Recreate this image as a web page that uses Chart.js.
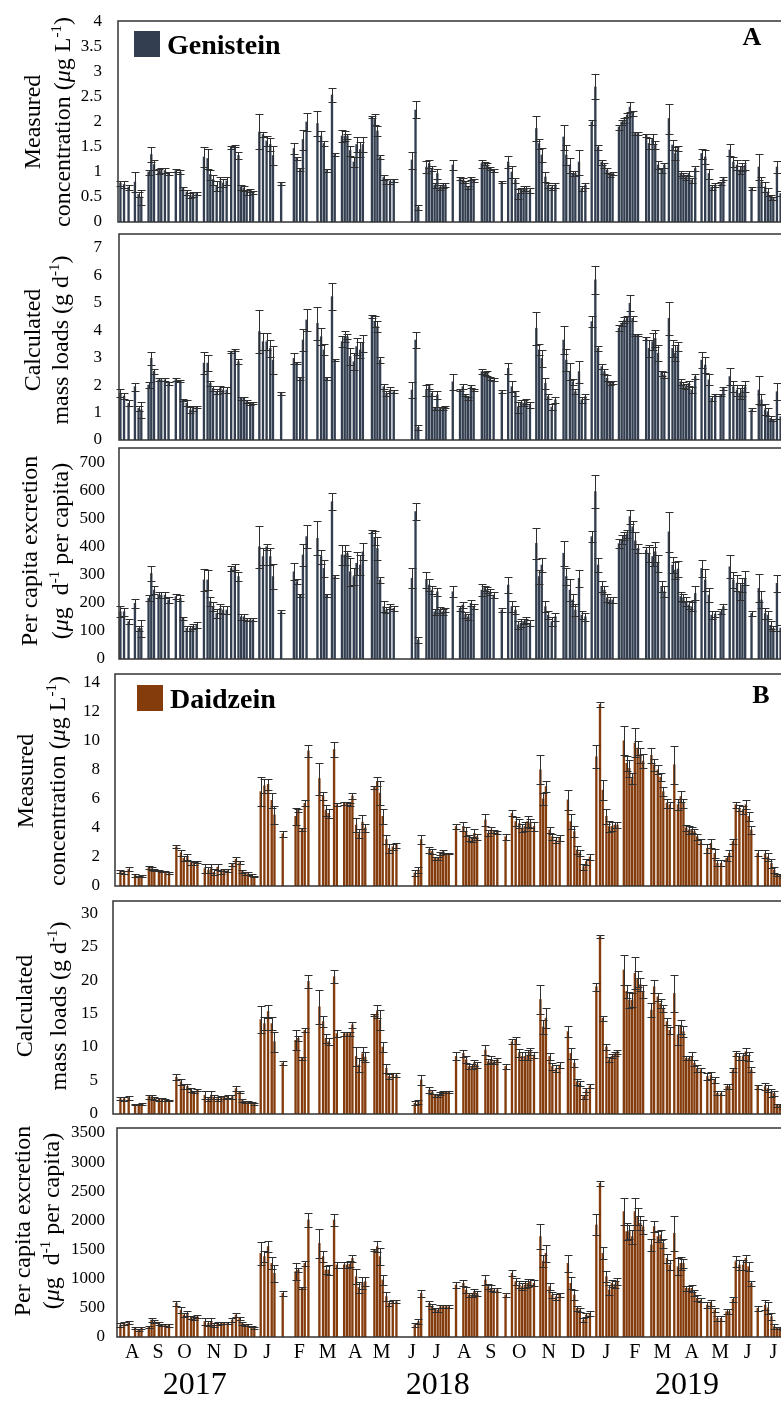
<!DOCTYPE html>
<html>
<head>
<meta charset="utf-8">
<script src="https://cdn.jsdelivr.net/npm/chart.js@4.4.1/dist/chart.umd.min.js"></script>
<style>
  html, body { margin: 0; padding: 0; background: #fff; overflow: hidden; }
  #wrap { position: relative; width: 781px; height: 1401px; overflow: hidden; }
  #wrap canvas { position: absolute; left: 0; }
</style>
</head>
<body>
<div id="wrap"></div>
<script>
// sampling days, counted from 1 Aug 2017
const sampleDays = [
  1, 5, 10, 17, 21, 24,
  32, 35, 38, 43, 46, 50, 54,
  62, 67, 70, 74, 78, 81, 85,
  93, 97, 100, 103, 107, 111, 114, 118,
  123, 127, 131, 134, 137, 140, 144, 147,
  154, 158, 162, 166, 169,
  178,
  192, 195, 199, 202, 206,
  218, 222, 225, 228, 234, 237,
  245, 248, 251, 254, 258, 261, 265, 268,
  278, 281, 284, 287, 291, 294, 298, 302,
  322, 326, 329,
  338, 341, 344, 347, 350, 353, 356, 359,
  367,
  375, 378, 381, 384, 387, 390,
  399, 402, 405, 408, 412,
  421,
  428, 432, 436, 439, 442, 445, 448, 452,
  459, 462, 465, 469, 472, 476, 480,
  489, 492, 496, 499, 502, 506, 509, 513,
  520, 524, 527, 531, 534, 537, 540, 543,
  550, 553, 556, 559, 562, 565, 568, 571,
  580, 583, 587, 590, 593, 597, 600, 605,
  609, 612, 615, 618, 621, 624, 627, 630, 634,
  641, 645, 649, 652, 656,
  662, 665, 669,
  672, 676, 680, 683, 686, 689,
  696,
  704, 707, 711, 714, 717, 720, 724, 728
];

// Genistein, measured concentration (ug/L)
const genConc = [
  0.78, 0.75, 0.7, 0.8, 0.55, 0.5,
  1.0, 1.35, 1.15, 1.02, 1.03, 1.03, 0.97,
  1.03, 1.0, 0.67, 0.6, 0.52, 0.55, 0.58,
  1.3, 1.27, 0.95, 0.85, 0.72, 0.8, 0.78, 0.82,
  1.5, 1.52, 1.33, 0.7, 0.68, 0.6, 0.63, 0.6,
  1.8, 1.75, 1.62, 1.55, 1.33,
  0.78,
  1.47, 1.28, 1.05, 1.65, 2.0,
  1.97, 1.72, 1.57, 1.03, 2.54, 1.35,
  1.72, 1.72, 1.72, 1.43, 1.2, 1.55, 1.45, 1.55,
  2.1, 2.05, 1.82, 1.3, 0.9, 0.82, 0.82, 0.84,
  1.24, 2.24, 0.3,
  1.1, 1.17, 1.07, 0.74, 0.97, 0.7, 0.74, 0.74,
  1.14,
  0.87, 0.84, 0.8, 0.7, 0.87, 0.84,
  1.17, 1.17, 1.14, 1.07, 1.04,
  0.8,
  1.2, 1.0, 0.84, 0.57, 0.64, 0.67, 0.67, 0.64,
  1.87, 1.57, 1.34, 0.9, 0.74, 0.7, 0.74,
  1.7, 1.34, 1.14, 0.97, 0.97, 1.2, 0.67, 0.74,
  2.0, 2.7, 1.5, 1.2, 1.14, 1.04, 0.94, 0.97,
  1.9, 2.0, 2.04, 2.14, 2.3, 2.17, 1.77, 1.77,
  1.74, 1.57, 1.67, 1.54, 1.14, 1.04, 1.14, 2.07,
  1.54, 1.37, 1.47, 0.97, 0.94, 0.9, 0.97, 0.84, 1.07,
  1.37, 1.3, 0.97, 0.7, 0.74,
  0.77, 0.87, null,
  1.44, 1.2, 1.14, 1.04, 1.1, 1.14,
  0.67,
  1.1, 0.8, 0.7, 0.6, 0.5, 0.47, 1.1, 0.57
];
const genConcErr = [
  0.05, 0.08, 0.05, 0.2, 0.05, 0.15,
  0.05, 0.15, 0.1, 0.05, 0.05, 0.05, 0.03,
  0.03, 0.03, 0.03, 0.05, 0.05, 0.05, 0.03,
  0.2, 0.2, 0.1, 0.1, 0.1, 0.1, 0.08, 0.08,
  0.03, 0.02, 0.06, 0.05, 0.05, 0.05, 0.03, 0.03,
  0.35, 0.05, 0.1, 0.13, 0.2,
  0.03,
  0.12, 0.03, 0.03, 0.2, 0.17,
  0.25, 0.1, 0.05, 0.03, 0.15, 0.03,
  0.12, 0.1, 0.05, 0.1, 0.1, 0.15, 0.15, 0.15,
  0.03, 0.1, 0.1, 0.03, 0.05, 0.05, 0.05, 0.03,
  0.17, 0.17, 0.05,
  0.12, 0.08, 0.05, 0.05, 0.1, 0.05, 0.05, 0.03,
  0.1,
  0.03, 0.05, 0.03, 0.03, 0.03, 0.03,
  0.08, 0.03, 0.05, 0.03, 0.03,
  0.03,
  0.12, 0.12, 0.05, 0.1, 0.05, 0.05, 0.05, 0.05,
  0.25, 0.1, 0.15, 0.1, 0.05, 0.05, 0.05,
  0.25, 0.2, 0.15, 0.05, 0.05, 0.25, 0.05, 0.05,
  0.05, 0.25, 0.05, 0.05, 0.05, 0.05, 0.03, 0.03,
  0.05, 0.05, 0.05, 0.05, 0.1, 0.05, 0.03, 0.03,
  0.03, 0.12, 0.1, 0.08, 0.08, 0.05, 0.05, 0.3,
  0.1, 0.12, 0.05, 0.05, 0.05, 0.05, 0.05, 0.05, 0.05,
  0.1, 0.15, 0.1, 0.05, 0.03,
  0.03, 0.03, 0,
  0.12, 0.1, 0.1, 0.08, 0.08, 0.1,
  0.03,
  0.25, 0.1, 0.1, 0.08, 0.05, 0.03, 0.12, 0.05
];

// Genistein, calculated mass loads (g/d)
const genLoad = [
  1.7, 1.6, 1.34, 1.94, 1.15, 1.1,
  2.0, 2.97, 2.5, 2.19, 2.19, 2.19, 2.06,
  2.2, 2.15, 1.46, 1.34, 1.1, 1.15, 1.2,
  2.8, 2.8, 2.06, 1.88, 1.76, 1.88, 1.82, 1.82,
  3.2, 3.28, 2.85, 1.52, 1.52, 1.4, 1.34, 1.34,
  3.95, 3.58, 3.58, 3.34, 2.91,
  1.7,
  2.97, 2.8, 2.25, 3.64, 4.37,
  4.25, 3.76, 3.28, 2.25, 5.22, 2.91,
  3.58, 3.76, 3.76, 3.04, 2.85, 3.4, 3.28, 3.52,
  4.5, 4.31, 4.13, 2.91, 1.94, 1.7, 1.82, 1.76,
  1.82, 3.64, 0.46,
  1.82, 1.94, 1.7, 1.15, 1.64, 1.15, 1.15, 1.2,
  2.12,
  1.82, 1.94, 1.64, 1.52, 1.94, 1.82,
  2.49, 2.43, 2.43, 2.25, 2.19,
  1.76,
  2.61, 1.94, 1.7, 1.2, 1.34, 1.34, 1.4, 1.28,
  4.07, 3.28, 2.97, 2.06, 1.58, 1.2, 1.46,
  3.64, 2.91, 2.49, 2.12, 1.76, 2.49, 1.46, 1.58,
  4.31, 5.83, 3.34, 2.67, 2.49, 2.25, 2.06, 2.1,
  4.07, 4.25, 4.37, 4.43, 4.98, 4.43, 3.82, 3.82,
  3.7, 3.34, 3.58, 3.7, 3.16, 2.43, 2.37, 4.43,
  3.34, 3.16, 3.4, 2.12, 2.0, 1.94, 2.06, 1.82, 2.31,
  2.91, 2.73, 2.19, 1.52, 1.64,
  1.64, 1.88, null,
  2.31, 1.94, 1.82, 1.7, 1.82, 1.94,
  1.1,
  1.82, 1.46, 1.1, 1.03, 0.79, 0.73, 1.76, 0.85
];
const genLoadErr = [
  0.15, 0.1, 0.1, 0.15, 0.1, 0.3,
  0.1, 0.25, 0.1, 0.05, 0.05, 0.05, 0.05,
  0.05, 0.05, 0.05, 0.1, 0.1, 0.1, 0.05,
  0.4, 0.3, 0.1, 0.1, 0.1, 0.1, 0.1, 0.1,
  0.05, 0.05, 0.1, 0.05, 0.05, 0.05, 0.05, 0.03,
  0.8, 0.3, 0.3, 0.3, 0.5,
  0.05,
  0.2, 0.05, 0.05, 0.4, 0.4,
  0.6, 0.3, 0.2, 0.05, 0.5, 0.05,
  0.2, 0.2, 0.1, 0.3, 0.3, 0.3, 0.3, 0.3,
  0.05, 0.2, 0.2, 0.1, 0.1, 0.1, 0.1, 0.05,
  0.3, 0.3, 0.1,
  0.2, 0.1, 0.1, 0.05, 0.15, 0.05, 0.05, 0.05,
  0.3,
  0.05, 0.1, 0.05, 0.05, 0.05, 0.05,
  0.1, 0.05, 0.1, 0.05, 0.05,
  0.05,
  0.2, 0.2, 0.1, 0.2, 0.1, 0.1, 0.1, 0.1,
  0.6, 0.2, 0.3, 0.2, 0.1, 0.1, 0.1,
  0.5, 0.4, 0.3, 0.1, 0.1, 0.4, 0.1, 0.1,
  0.2, 0.5, 0.1, 0.1, 0.1, 0.1, 0.05, 0.05,
  0.1, 0.1, 0.1, 0.1, 0.3, 0.1, 0.05, 0.05,
  0.05, 0.3, 0.3, 0.3, 0.3, 0.1, 0.1, 0.6,
  0.3, 0.3, 0.15, 0.1, 0.1, 0.1, 0.1, 0.1, 0.1,
  0.3, 0.3, 0.2, 0.1, 0.05,
  0.05, 0.05, 0,
  0.3, 0.2, 0.2, 0.2, 0.2, 0.2,
  0.05,
  0.5, 0.2, 0.2, 0.15, 0.1, 0.05, 0.3, 0.1
];

// Genistein, per capita excretion (ug/d per capita)
const genCapita = [
  168, 168, 133, 198, 109, 109,
  216, 304, 245, 227, 227, 227, 210,
  222, 216, 145, 109, 109, 115, 121,
  281, 281, 204, 186, 162, 180, 174, 174,
  322, 328, 293, 150, 150, 139, 139, 139,
  399, 364, 399, 364, 293,
  168,
  310, 275, 227, 370, 435,
  429, 364, 322, 227, 559, 293,
  370, 370, 375, 310, 293, 340, 334, 381,
  452, 429, 393, 281, 186, 174, 186, 180,
  287, 524, 68,
  281, 263, 245, 168, 239, 174, 168, 174,
  239,
  180, 192, 156, 150, 198, 186,
  245, 251, 245, 239, 227,
  174,
  263, 186, 174, 121, 127, 133, 139, 127,
  411, 293, 334, 186, 156, 133, 150,
  376, 293, 245, 210, 174, 287, 156, 150,
  435, 595, 334, 257, 245, 216, 210, 210,
  410, 425, 437, 445, 506, 470, 420, 393,
  387, 376, 364, 381, 340, 257, 239, 452,
  334, 316, 320, 222, 216, 204, 192, 186, 233,
  322, 281, 227, 156, 160,
  168, 186, null,
  328, 281, 270, 239, 263, 287,
  162,
  251, 210, 162, 156, 120, 109, 269, 110
];
const genCapitaErr = [
  20, 15, 10, 15, 10, 30,
  10, 25, 15, 10, 10, 10, 10,
  10, 10, 5, 10, 10, 10, 10,
  40, 35, 15, 15, 15, 15, 15, 15,
  10, 10, 15, 10, 10, 5, 5, 5,
  75, 30, 10, 30, 45,
  5,
  30, 10, 5, 40, 40,
  60, 25, 30, 5, 30, 5,
  35, 35, 10, 50, 30, 40, 35, 30,
  5, 25, 40, 10, 20, 10, 10, 8,
  35, 30, 10,
  30, 20, 15, 10, 15, 10, 10, 8,
  20,
  10, 10, 10, 10, 10, 10,
  20, 10, 10, 10, 10,
  8,
  30, 20, 15, 15, 15, 10, 10, 10,
  55, 25, 25, 20, 15, 15, 15,
  45, 30, 40, 20, 20, 30, 15, 15,
  20, 60, 25, 20, 15, 15, 10, 10,
  15, 15, 15, 15, 25, 20, 30, 15,
  10, 30, 35, 35, 30, 20, 20, 70,
  30, 30, 30, 15, 15, 15, 15, 15, 25,
  30, 40, 25, 15, 10,
  8, 8, 0,
  40, 30, 30, 30, 25, 25,
  8,
  50, 30, 20, 15, 15, 10, 30, 10
];

// Daidzein, measured concentration (ug/L)
const daiConc = [
  1.0, 0.95, 1.15, 0.75, 0.65, 0.7,
  1.3, 1.2, 1.1, 1.05, 1.0, 1.0, 0.9,
  2.7, 2.3, 1.9, 2.0, 1.6, 1.55, 1.65,
  1.2, 1.1, 1.2, 0.95, 1.3, 0.95, 1.1, 1.05,
  1.5, 1.85, 1.6, 1.0, 0.85, 0.85, 0.75, 0.65,
  6.5, 6.9, 7.0, 5.9, 4.9,
  3.6,
  4.8, 5.2, 3.9, 5.7, 9.3,
  7.4, 6.2, 5.2, 5.0, 9.4, 5.6,
  5.7, 5.7, 5.6, 6.2, 4.2, 3.6, 4.4, 4.0,
  6.8, 7.2, 6.4, 4.8, 3.2, 2.6, 2.7, 2.8,
  0.9, 1.1, 3.2,
  2.5, 2.37, 1.9, 1.9, 2.25, 2.37, 2.25, 2.25,
  4.1,
  4.1, 3.75, 3.3, 3.2, 3.63, 3.4,
  4.55, 3.63, 3.86, 3.75, 3.7,
  3.4,
  5.0, 4.44, 4.3, 4.0, 4.1, 4.44, 4.3, 4.1,
  8.0, 6.0, 6.85, 3.86, 3.4, 3.17, 3.3,
  5.93, 4.44, 3.75, 2.48, 2.3, 1.33, 1.68, 2.0,
  8.9, 12.5, 6.6, 4.8, 4.1, 4.1, 4.2, 4.2,
  10.0, 8.45, 8.1, 7.4, 9.85, 9.5, 9.0, 8.6,
  9.0, 8.35, 8.0, 7.5, 6.5, 5.7, 5.6, 8.35,
  5.6, 6.16, 5.7, 4.0, 3.86, 3.86, 3.75, 3.4, 3.06,
  2.6, 2.94, 2.25, 1.56, 1.56,
  1.9, 2.25, 3.06,
  5.6, 5.36, 5.24, 5.6, 4.8, 3.86,
  2.25,
  2.2, 2.0, 1.56, 1.1, 0.76, 0.76, 0.64, 2.0
];
const daiConcErr = [
  0.1, 0.1, 0.15, 0.1, 0.05, 0.05,
  0.1, 0.1, 0.1, 0.05, 0.05, 0.05, 0.05,
  0.1, 0.2, 0.2, 0.2, 0.15, 0.1, 0.1,
  0.3, 0.2, 0.3, 0.2, 0.2, 0.1, 0.1, 0.1,
  0.1, 0.15, 0.1, 0.1, 0.1, 0.1, 0.05, 0.05,
  1.0, 0.5, 0.4, 0.5, 0.6,
  0.2,
  0.6, 0.1, 0.1, 0.2, 0.4,
  1.1, 0.3, 0.4, 0.3, 0.5, 0.1,
  0.1, 0.1, 0.1, 0.2, 0.5, 0.3, 0.5, 0.3,
  0.1, 0.3, 0.8, 0.5, 0.3, 0.3, 0.2, 0.15,
  0.2, 0.2, 0.3,
  0.2, 0.2, 0.1, 0.1, 0.1, 0.1, 0.05, 0.05,
  0.2,
  0.3, 0.3, 0.2, 0.2, 0.3, 0.2,
  0.4, 0.2, 0.2, 0.1, 0.1,
  0.2,
  0.2, 0.3, 0.3, 0.3, 0.3, 0.4, 0.3, 0.3,
  1.0, 0.4, 0.4, 0.2, 0.2, 0.2, 0.2,
  0.7, 0.5, 0.4, 0.3, 0.2, 0.2, 0.2, 0.2,
  0.8, 0.2, 0.7, 0.5, 0.4, 0.3, 0.2, 0.2,
  1.0, 0.5, 0.6, 0.4, 1.0, 0.5, 0.5, 0.5,
  0.5, 0.4, 0.3, 0.3, 0.3, 0.3, 0.2, 1.3,
  0.4, 0.4, 0.3, 0.2, 0.3, 0.2, 0.2, 0.2, 0.2,
  0.3, 0.3, 0.3, 0.2, 0.2,
  0.2, 0.2, 0.2,
  0.2, 0.2, 0.3, 0.3, 0.3, 0.3,
  0.2,
  0.3, 0.3, 0.3, 0.2, 0.1, 0.1, 0.1, 0.3
];

// Daidzein, calculated mass loads (g/d)
const daiLoad = [
  2.3, 2.3, 2.4, 1.4, 1.4, 1.5,
  2.6, 2.6, 2.3, 2.2, 2.2, 2.1, 2.0,
  5.5, 4.8, 4.1, 4.1, 3.6, 3.3, 3.6,
  2.8, 2.3, 2.8, 2.5, 2.3, 2.5, 2.5, 2.6,
  2.6, 3.8, 3.3, 2.0, 1.8, 1.8, 1.7, 1.5,
  14.1, 13.5, 15.3, 13.5, 10.8,
  7.6,
  11.0, 11.3, 8.3, 12.5, 19.8,
  16.0, 13.8, 11.3, 10.8, 20.5, 12.0,
  12.0, 12.0, 12.0, 13.3, 8.6, 7.3, 9.0, 8.5,
  14.8, 15.3, 14.0, 10.0, 6.8, 5.6, 5.8, 5.8,
  1.6, 1.8, 5.1,
  3.6, 3.3, 2.8, 2.8, 3.1, 3.3, 3.3, 3.3,
  8.6,
  9.05, 8.1, 7.1, 7.1, 7.6, 7.3,
  9.55, 7.8, 8.1, 7.8, 8.1,
  7.1,
  10.8, 11.0, 9.05, 8.6, 8.6, 8.8, 9.3, 8.8,
  17.1, 13.0, 14.3, 8.6, 7.1, 6.8, 7.3,
  12.3, 9.05, 7.6, 4.8, 4.6, 2.6, 3.6, 4.2,
  19.0, 26.5, 14.3, 10.0, 8.1, 8.6, 9.0, 9.3,
  21.5, 18.3, 17.0, 17.0, 21.0, 20.2, 19.3, 18.3,
  15.5, 19.0, 17.5, 16.5, 15.8, 13.8, 12.5, 18.0,
  11.8, 13.0, 12.3, 8.3, 8.3, 8.6, 7.6, 6.8, 6.6,
  5.6, 5.8, 5.1, 3.1, 3.1,
  4.1, 4.1, 6.6,
  9.05, 8.6, 8.6, 9.3, 8.6, 6.6,
  4.1,
  4.1, 3.8, 3.1, 3.1, 1.3, 1.3, 1.0, 0.8
];
const daiLoadErr = [
  0.2, 0.3, 0.3, 0.1, 0.1, 0.2,
  0.3, 0.3, 0.2, 0.2, 0.2, 0.1, 0.1,
  0.4, 0.5, 0.4, 0.4, 0.3, 0.2, 0.2,
  0.6, 0.3, 0.6, 0.3, 0.3, 0.2, 0.2, 0.2,
  0.3, 0.4, 0.2, 0.2, 0.2, 0.2, 0.1, 0.1,
  2.0, 1.0, 0.9, 1.0, 1.5,
  0.3,
  1.5, 0.4, 0.2, 0.3, 1.0,
  2.5, 0.8, 0.7, 0.5, 1.0, 0.5,
  0.3, 0.3, 0.3, 0.5, 1.4, 1.0, 1.0, 0.8,
  0.2, 1.0, 1.5, 0.7, 0.7, 0.4, 0.3, 0.3,
  0.3, 0.3, 0.7,
  0.4, 0.3, 0.2, 0.2, 0.2, 0.2, 0.1, 0.1,
  0.6,
  0.5, 0.5, 0.4, 0.4, 0.5, 0.4,
  0.8, 0.4, 0.5, 0.3, 0.3,
  0.4,
  0.4, 0.5, 0.6, 0.6, 0.6, 0.7, 0.5, 0.5,
  2.2, 1.0, 1.5, 0.5, 0.5, 0.5, 0.4,
  0.8, 0.8, 0.6, 0.4, 0.4, 0.3, 0.3, 0.3,
  0.6, 0.2, 0.4, 0.5, 0.4, 0.3, 0.3, 0.3,
  2.3, 1.0, 1.2, 1.0, 2.4, 1.2, 1.0, 1.0,
  1.0, 1.0, 0.6, 0.6, 0.5, 0.5, 0.5, 2.8,
  1.5, 1.1, 0.8, 0.3, 0.3, 0.6, 0.5, 0.5, 0.3,
  0.5, 0.5, 0.4, 0.3, 0.3,
  0.4, 0.4, 0.3,
  0.4, 0.5, 0.5, 0.5, 0.7, 0.4,
  0.3,
  0.5, 0.5, 0.6, 0.4, 0.2, 0.2, 0.2, 0.2
];

// Daidzein, per capita excretion (ug/d per capita)
const daiCapita = [
  206, 235, 246, 149, 120, 149,
  177, 292, 260, 235, 206, 206, 200,
  578, 463, 378, 406, 335, 320, 349,
  263, 235, 263, 206, 235, 235, 235, 240,
  292, 378, 320, 230, 206, 206, 180, 149,
  1436, 1379, 1550, 1264, 1093,
  749,
  1121, 1150, 835, 1264, 2008,
  1607, 1379, 1150, 1150, 2008, 1236,
  1236, 1236, 1250, 1350, 1035, 850, 921, 950,
  1493, 1550, 1379, 978, 692, 578, 606, 606,
  206, 263, 749,
  578, 521, 463, 463, 521, 521, 521, 521,
  892,
  921, 806, 721, 721, 778, 749,
  978, 864, 835, 806, 806,
  721,
  1093, 950, 892, 864, 892, 921, 950, 921,
  1722, 1300, 1436, 864, 721, 692, 721,
  1264, 921, 721, 492, 463, 292, 378, 400,
  1922, 2637, 1436, 1035, 806, 921, 900, 950,
  2151, 1808, 1808, 1722, 2151, 2065, 1951, 1893,
  1579, 1893, 1722, 1750, 1607, 1350, 1236, 1779,
  1207, 1264, 1264, 835, 835, 835, 749, 664, 635,
  549, 578, 463, 320, 320,
  435, 435, 646,
  1293, 1236, 1236, 1350, 1207, 921,
  492,
  549, 500, 349, 177, 149, 149, 140, 120
];
const daiCapitaErr = [
  30, 30, 30, 15, 15, 20,
  20, 30, 25, 25, 20, 20, 20,
  40, 50, 40, 40, 30, 20, 30,
  60, 40, 60, 30, 30, 20, 20, 20,
  30, 40, 25, 20, 20, 20, 15, 15,
  200, 100, 90, 100, 150,
  40,
  150, 40, 20, 40, 120,
  250, 100, 70, 80, 100, 50,
  50, 50, 50, 60, 130, 100, 100, 80,
  20, 100, 150, 90, 80, 40, 30, 30,
  40, 40, 60,
  40, 40, 30, 30, 30, 30, 20, 20,
  50,
  50, 50, 40, 40, 50, 40,
  80, 40, 50, 30, 30,
  40,
  50, 60, 60, 60, 60, 70, 50, 50,
  220, 100, 150, 60, 50, 50, 40,
  150, 100, 80, 40, 40, 40, 40, 40,
  180, 40, 100, 100, 80, 60, 60, 60,
  230, 150, 120, 120, 230, 150, 120, 120,
  100, 100, 100, 80, 80, 80, 80, 300,
  150, 110, 80, 40, 40, 60, 50, 50, 30,
  50, 50, 40, 40, 40,
  40, 40, 40,
  100, 80, 80, 60, 80, 40,
  40,
  80, 100, 60, 40, 20, 20, 20, 20
];

const genConcTicks = [0, 0.5, 1, 1.5, 2, 2.5, 3, 3.5, 4];
const genLoadTicks = [0, 1, 2, 3, 4, 5, 6, 7];
const genCapitaTicks = [0, 100, 200, 300, 400, 500, 600, 700];
const daiConcTicks = [0, 2, 4, 6, 8, 10, 12, 14];
const daiLoadTicks = [0, 5, 10, 15, 20, 25, 30];
const daiCapitaTicks = [0, 500, 1000, 1500, 2000, 2500, 3000, 3500];

const monthLabels = ['A', 'S', 'O', 'N', 'D', 'J', 'F', 'M', 'A', 'M', 'J', 'J',
  'A', 'S', 'O', 'N', 'D', 'J', 'F', 'M', 'A', 'M', 'J', 'J'];
const monthDays = [14, 42, 71, 103, 132, 161, 196, 227, 257, 286, 319, 346,
  376, 405, 436, 468, 500, 531, 562, 592, 624, 655, 685, 713];
const yearLabels = ['2017', '2018', '2019'];
const yearDays = [82, 347, 619];

const SERIF = '"Liberation Serif", "Times New Roman", serif';
const GEN = '#333f50';
const DAI = '#843c0c';
const PAD = 34;

const concTitle = [[['Measured']], [['concentration ('], ['μ', 'i'], ['g L'], ['-1', 's'], [')']]];
const loadTitle = [[['Calculated']], [['mass loads (g d'], ['-1', 's'], [')']]];
const capitaTitle = [[['Per capita excretion']], [['('], ['μ', 'i'], ['g  d'], ['-1', 's'], [' per capita)']]];

const panels = [
  { values: genConc, errors: genConcErr, color: GEN, top: 21, bottom: 222, left: 118,
    yMax: 4.02, ticks: genConcTicks, tickPad: 16, xMin: -1.65, xMax: 749.4,
    title: concTitle, titleX: [32, 62], titleY: 122,
    legend: { text: 'Genistein', x: 134, y: 31, base: 54 }, letter: { text: 'A', x: 752, y: 45 } },
  { values: genLoad, errors: genLoadErr, color: GEN, top: 234, bottom: 440, left: 119,
    yMax: 7.5, ticks: genLoadTicks, tickPad: 17, xMin: -0.55, xMax: 749.4,
    title: loadTitle, titleX: [32, 60], titleY: 340 },
  { values: genCapita, errors: genCapitaErr, color: GEN, top: 448, bottom: 659, left: 119,
    yMax: 750, ticks: genCapitaTicks, tickPad: 14, xMin: -0.55, xMax: 749.4,
    title: capitaTitle, titleX: [29, 60], titleY: 551 },
  { values: daiConc, errors: daiConcErr, color: DAI, top: 674, bottom: 886, left: 115,
    yMax: 14.6, ticks: daiConcTicks, tickPad: 15, xMin: -4.9, xMax: 742.1,
    title: concTitle, titleX: [25, 57], titleY: 781,
    legend: { text: 'Daidzein', x: 137, y: 685, base: 708 }, letter: { text: 'B', x: 761, y: 703 } },
  { values: daiLoad, errors: daiLoadErr, color: DAI, top: 901, bottom: 1114, left: 113,
    yMax: 31.8, ticks: daiLoadTicks, tickPad: 15, xMin: -7.1, xMax: 742.1,
    title: loadTitle, titleX: [24, 58], titleY: 1006 },
  { values: daiCapita, errors: daiCapitaErr, color: DAI, top: 1128, bottom: 1337, left: 117,
    yMax: 3585, ticks: daiCapitaTicks, tickPad: 12, xMin: -2.7, xMax: 742.1,
    title: capitaTitle, titleX: [22, 51], titleY: 1221 }
];

const segFont = ( style ) => {
  if ( style === 's' ) return '15px ' + SERIF;
  if ( style === 'i' ) return 'italic 24px ' + SERIF;
  return '24px ' + SERIF;
};

const drawTitleLine = ( ctx, segs, x, y ) => {
  let total = 0;
  segs.forEach( ( s ) => {
    ctx.font = segFont( s[ 1 ] );
    total += ctx.measureText( s[ 0 ] ).width;
  } );
  ctx.save();
  ctx.translate( x, y );
  ctx.rotate( -Math.PI / 2 );
  ctx.textBaseline = 'alphabetic';
  ctx.textAlign = 'left';
  let pos = -total / 2;
  segs.forEach( ( s ) => {
    ctx.font = segFont( s[ 1 ] );
    ctx.fillText( s[ 0 ], pos, s[ 1 ] === 's' ? -1 : 8 );
    pos += ctx.measureText( s[ 0 ] ).width;
  } );
  ctx.restore();
};

const panelDecor = ( p, cTop, last ) => ( {
  id: 'panelDecor',
  afterDatasetsDraw( chart ) {
    const ctx = chart.ctx;
    const a = chart.chartArea;
    const ys = chart.scales.y;
    const meta = chart.getDatasetMeta( 0 );

    // error bars
    ctx.save();
    ctx.strokeStyle = '#2e2e2e';
    ctx.lineWidth = 1;
    meta.data.forEach( ( bar, i ) => {
      const v = p.values[ i ];
      if ( v === null || v === undefined ) return;
      const e = p.errors[ i ];
      const x = Math.round( bar.x ) + 0.5;
      const yt = Math.round( ys.getPixelForValue( v + e ) ) + 0.5;
      const yb = Math.round( ys.getPixelForValue( Math.max( 0, v - e ) ) ) + 0.5;
      ctx.beginPath();
      ctx.moveTo( x, yb );
      ctx.lineTo( x, yt );
      ctx.moveTo( x - 4, yt );
      ctx.lineTo( x + 4, yt );
      ctx.moveTo( x - 4, yb );
      ctx.lineTo( x + 4, yb );
      ctx.stroke();
    } );
    ctx.restore();

    // plot frame
    ctx.save();
    ctx.strokeStyle = '#333';
    ctx.lineWidth = 1.5;
    ctx.beginPath();
    ctx.moveTo( a.right + 10, a.top );
    ctx.lineTo( a.left, a.top );
    ctx.lineTo( a.left, a.bottom );
    ctx.lineTo( a.right + 10, a.bottom );
    ctx.stroke();
    ctx.restore();
  },
  afterDraw( chart ) {
    const ctx = chart.ctx;
    ctx.save();
    ctx.fillStyle = '#000';
    p.title.forEach( ( segs, k ) => drawTitleLine( ctx, segs, p.titleX[ k ], p.titleY - cTop ) );

    if ( p.legend ) {
      ctx.fillStyle = p.color;
      ctx.fillRect( p.legend.x, p.legend.y - cTop, 26, 26 );
      ctx.fillStyle = '#000';
      ctx.font = 'bold 28px ' + SERIF;
      ctx.textAlign = 'left';
      ctx.textBaseline = 'alphabetic';
      ctx.fillText( p.legend.text, p.legend.x + 33, p.legend.base - cTop );
    }
    if ( p.letter ) {
      ctx.font = 'bold 26px ' + SERIF;
      ctx.textAlign = 'center';
      ctx.textBaseline = 'alphabetic';
      ctx.fillText( p.letter.text, p.letter.x, p.letter.y - cTop );
    }
    if ( last ) {
      const xs = chart.scales.x;
      ctx.font = '32px ' + SERIF;
      ctx.textAlign = 'center';
      ctx.textBaseline = 'middle';
      yearLabels.forEach( ( t, i ) => {
        ctx.fillText( t, xs.getPixelForValue( yearDays[ i ] ), 1386 - cTop );
      } );
    }
    ctx.restore();
  }
} );

const wrap = document.getElementById( 'wrap' );

panels.forEach( ( p, k ) => {
  const last = k === panels.length - 1;
  const cTop = p.top - PAD;
  const cHeight = last ? 1401 - cTop : p.bottom + PAD - cTop;
  const canvas = document.createElement( 'canvas' );
  canvas.width = 800;
  canvas.height = cHeight;
  canvas.style.top = cTop + 'px';
  wrap.appendChild( canvas );

  new Chart( canvas.getContext( '2d' ), {
    type: 'bar',
    data: {
      datasets: [ {
        data: sampleDays.map( ( d, i ) => ( { x: d, y: p.values[ i ] } ) ),
        backgroundColor: p.color,
        barThickness: 1.7,
        borderWidth: 0
      } ]
    },
    options: {
      responsive: false,
      animation: false,
      events: [],
      layout: { padding: { top: PAD, bottom: last ? 0 : PAD, left: 0, right: 0 } },
      plugins: {
        legend: { display: false },
        tooltip: { enabled: false }
      },
      scales: {
        x: {
          type: 'linear',
          min: p.xMin,
          max: p.xMax,
          offset: false,
          display: last,
          grid: { display: false, drawTicks: false },
          border: { display: false },
          afterBuildTicks: ( s ) => { s.ticks = monthDays.map( ( v ) => ( { value: v } ) ); },
          afterFit: ( s ) => { if ( last ) s.height = 64; },
          ticks: {
            autoSkip: false,
            maxRotation: 0,
            padding: 4,
            color: '#000',
            font: { family: SERIF, size: 20 },
            callback: ( v, i ) => monthLabels[ i ]
          }
        },
        y: {
          min: 0,
          max: p.yMax,
          grid: { display: false, drawTicks: false },
          border: { display: false },
          afterBuildTicks: ( s ) => { s.ticks = p.ticks.map( ( v ) => ( { value: v } ) ); },
          afterFit: ( s ) => { s.width = p.left; },
          ticks: {
            autoSkip: false,
            padding: p.tickPad,
            color: '#000',
            font: { family: SERIF, size: 17 },
            callback: ( v ) => String( v )
          }
        }
      }
    },
    plugins: [ panelDecor( p, cTop, last ) ]
  } );
} );
</script>
</body>
</html>
